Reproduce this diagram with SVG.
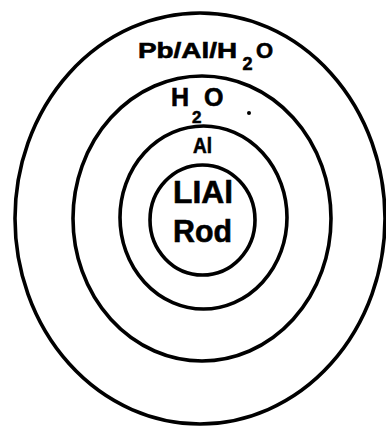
<svg xmlns="http://www.w3.org/2000/svg" width="386" height="426" viewBox="0 0 386 426">
<style>
.ring{fill:none;stroke:#000;stroke-width:3.6}
.t{font-family:"Liberation Sans",Arial,sans-serif;font-weight:bold;fill:#000;stroke:#000;stroke-width:0.6}
</style>
<rect width="386" height="426" fill="#fff"/>
<g id="outer-layer">
<ellipse class="ring" cx="200" cy="218.5" rx="185" ry="205.5"/>
<text class="t" x="138" y="57.5" font-size="22" textLength="99" lengthAdjust="spacingAndGlyphs">Pb/Al/H</text>
<text class="t" x="242.5" y="70" font-size="18">2</text>
<text class="t" x="256" y="57.5" font-size="22">O</text>
</g>
<g id="water-layer">
<ellipse class="ring" cx="202" cy="218.5" rx="129" ry="142.5"/>
<text class="t" x="171" y="106" font-size="25">H</text>
<text class="t" x="192" y="123" font-size="17">2</text>
<text class="t" x="204" y="106" font-size="25">O</text>
<circle cx="249" cy="113" r="2" fill="#000"/>
</g>
<g id="al-layer">
<ellipse class="ring" cx="203.5" cy="217.5" rx="83.5" ry="91.5"/>
<text class="t" x="193" y="153" font-size="22" textLength="19" lengthAdjust="spacingAndGlyphs">Al</text>
</g>
<g id="rod">
<ellipse class="ring" cx="202.5" cy="220" rx="52.5" ry="55"/>
<text class="t" x="173" y="203" font-size="32" textLength="60" lengthAdjust="spacingAndGlyphs">LIAl</text>
<text class="t" x="173" y="242" font-size="31" textLength="59" lengthAdjust="spacingAndGlyphs">Rod</text>
</g>
<g id="connectors"/>
</svg>
